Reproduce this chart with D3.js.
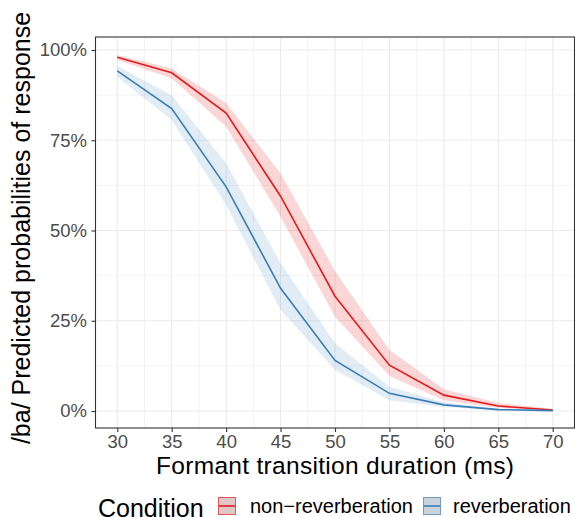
<!DOCTYPE html>
<html>
<head>
<meta charset="utf-8">
<script src="https://cdn.jsdelivr.net/npm/d3@7"></script>
<style>
  body { margin: 0; background: #fff; }
  text { font-family: "Liberation Sans", Arial, sans-serif; }
</style>
</head>
<body>
<div id="chart"></div>
<script>
// data
const durations = [30, 35, 40, 45, 50, 55, 60, 65, 70];
const nonRevFit = [0.980, 0.937, 0.825, 0.595, 0.318, 0.127, 0.044, 0.014, 0.003];
const nonRevLow = [0.972, 0.922, 0.788, 0.538, 0.261, 0.097, 0.030, 0.009, 0.002];
const nonRevHigh = [0.986, 0.949, 0.853, 0.658, 0.388, 0.169, 0.060, 0.022, 0.006];
const revFit = [0.942, 0.838, 0.621, 0.340, 0.140, 0.049, 0.017, 0.004, 0.001];
const revLow = [0.926, 0.806, 0.571, 0.280, 0.114, 0.030, 0.011, 0.002, 0.0005];
const revHigh = [0.956, 0.875, 0.686, 0.409, 0.188, 0.067, 0.024, 0.007, 0.003];
const conditions = ["non\u2212reverberation", "reverberation"];
const colors = ["#E41A1C", "#377EB8"];
const yTicks = [0, 0.25, 0.5, 0.75, 1];
const xTicks = [30, 35, 40, 45, 50, 55, 60, 65, 70];

const W = 575, H = 517;
const panel = { left: 95.5, right: 574.5, top: 37, bottom: 428 };

const svg = d3.select("#chart").append("svg")
  .attr("width", W).attr("height", H);

const x = d3.scaleLinear().domain([28, 72]).range([panel.left, panel.right]);
const y = d3.scaleLinear().domain([-0.047, 1.036]).range([panel.bottom, panel.top]);

// grid
const minorX = d3.range(27.5, 73, 5);
const minorY = [-0.125, 0.125, 0.375, 0.625, 0.875];
const grid = svg.append("g");
grid.selectAll(".mx").data(minorX.filter(v => x(v) > panel.left && x(v) < panel.right)).enter()
  .append("line").attr("x1", d => x(d)).attr("x2", d => x(d))
  .attr("y1", panel.top).attr("y2", panel.bottom)
  .attr("stroke", "#ebebeb").attr("stroke-width", 0.6);
grid.selectAll(".my").data(minorY.filter(v => y(v) > panel.top && y(v) < panel.bottom)).enter()
  .append("line").attr("y1", d => y(d)).attr("y2", d => y(d))
  .attr("x1", panel.left).attr("x2", panel.right)
  .attr("stroke", "#ebebeb").attr("stroke-width", 0.6);
grid.selectAll(".gx").data(xTicks).enter()
  .append("line").attr("x1", d => x(d)).attr("x2", d => x(d))
  .attr("y1", panel.top).attr("y2", panel.bottom)
  .attr("stroke", "#ebebeb").attr("stroke-width", 1.1);
grid.selectAll(".gy").data(yTicks).enter()
  .append("line").attr("y1", d => y(d)).attr("y2", d => y(d))
  .attr("x1", panel.left).attr("x2", panel.right)
  .attr("stroke", "#ebebeb").attr("stroke-width", 1.1);

const series = [
  { name: conditions[0], color: colors[0], fit: nonRevFit, low: nonRevLow, high: nonRevHigh },
  { name: conditions[1], color: colors[1], fit: revFit, low: revLow, high: revHigh }
];

const area = d3.area()
  .x((d, i) => x(durations[i]))
  .y0(d => y(d[0]))
  .y1(d => y(d[1]));
const line = d3.line()
  .x((d, i) => x(durations[i]))
  .y(d => y(d));

series.slice().reverse().forEach(s => {
  svg.append("path")
    .datum(s.low.map((v, i) => [v, s.high[i]]))
    .attr("d", area)
    .attr("fill", s.color)
    .attr("fill-opacity", s.color === colors[0] ? 0.18 : 0.15);
});
series.forEach(s => {
  svg.append("path")
    .datum(s.fit)
    .attr("d", line)
    .attr("fill", "none")
    .attr("stroke", s.color)
    .attr("stroke-width", 1.6);
});

// panel border
svg.append("rect")
  .attr("x", panel.left).attr("y", panel.top)
  .attr("width", panel.right - panel.left).attr("height", panel.bottom - panel.top)
  .attr("fill", "none").attr("stroke", "#333333").attr("stroke-width", 1.1);

// axes
const xAxis = svg.append("g")
  .attr("transform", `translate(0,${panel.bottom})`)
  .call(d3.axisBottom(x).tickValues(xTicks).tickSize(4).tickPadding(3));
const yAxis = svg.append("g")
  .attr("transform", `translate(${panel.left},0)`)
  .call(d3.axisLeft(y).tickValues(yTicks).tickFormat(d3.format(".0%")).tickSize(4).tickPadding(4.5));
[xAxis, yAxis].forEach(a => {
  a.select(".domain").remove();
  a.selectAll(".tick line").attr("stroke", "#333333").attr("stroke-width", 1.1);
  a.selectAll(".tick text").attr("fill", "#4d4d4d").style("font-size", "18.5px")
    .style("font-family", "'Liberation Sans', Arial, sans-serif");
});

// axis titles
svg.append("text")
  .attr("x", (panel.left + panel.right) / 2).attr("y", 473.5)
  .attr("text-anchor", "middle").style("font-size", "24.5px").attr("fill", "#000")
  .attr("textLength", 358).attr("lengthAdjust", "spacing")
  .text("Formant transition duration (ms)");
svg.append("text")
  .attr("transform", `translate(29.5,228) rotate(-90)`)
  .attr("text-anchor", "middle").style("font-size", "25px").attr("fill", "#000")
  .text("/ba/ Predicted probabilities of response");

// legend
const leg = svg.append("g");
leg.append("text").attr("x", 98).attr("y", 516.5)
  .style("font-size", "25px").attr("fill", "#000").text("Condition");
const keyX = [218.5, 423.5];
const labX = [250, 453];
series.forEach((s, i) => {
  leg.append("rect").attr("x", keyX[i]).attr("y", 497.5).attr("width", 17).attr("height", 17)
    .attr("fill", "#e0e0e0").attr("stroke", s.color).attr("stroke-opacity", 0.7).attr("stroke-width", 1);
  leg.append("rect").attr("x", keyX[i]).attr("y", 497.5).attr("width", 17).attr("height", 17)
    .attr("fill", s.color).attr("fill-opacity", 0.12);
  leg.append("line").attr("x1", keyX[i] + 0.5).attr("x2", keyX[i] + 16.5)
    .attr("y1", 506).attr("y2", 506).attr("stroke", s.color).attr("stroke-width", 1.6);
  leg.append("text").attr("x", labX[i]).attr("y", 512.7)
    .style("font-size", "20px").attr("fill", "#000").text(s.name);
});
</script>
</body>
</html>
